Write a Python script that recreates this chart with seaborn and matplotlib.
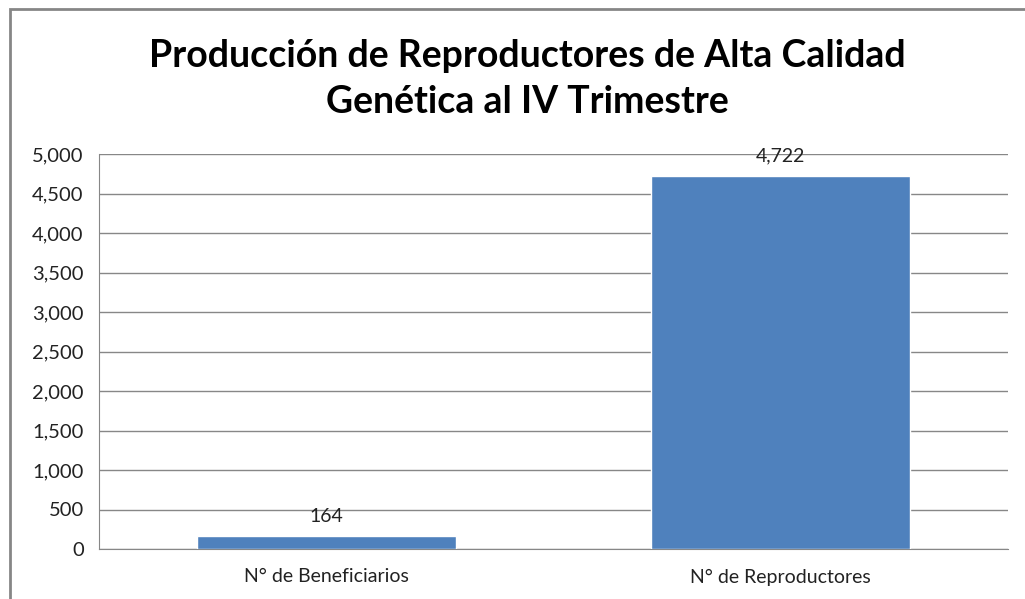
import matplotlib
matplotlib.use("Agg")
import matplotlib.pyplot as plt
import seaborn as sns
import pandas as pd
from matplotlib.patches import Rectangle
from matplotlib.ticker import FuncFormatter

# Chart data
categories = ["N° de Beneficiarios", "N° de Reproductores"]
values = [164, 4722]
title = "Producción de Reproductores de Alta Calidad\nGenética al IV Trimestre"

BAR_COLOR = "#4F81BD"
GRID_COLOR = "#878787"

sns.set_style("white")
plt.rcParams['font.family'] = ['Lato', 'DejaVu Sans']

df = pd.DataFrame({"categoria": categories, "valor": values})

fig = plt.figure(figsize=(10.25, 5.99), dpi=100)
ax = fig.add_axes([99 / 1025, 50 / 599, 909 / 1025, 395 / 599])

sns.barplot(data=df, x="categoria", y="valor", color=BAR_COLOR, width=0.57,
            saturation=1, ax=ax, zorder=3)

ax.set_ylim(0, 5000)
ax.set_yticks(range(0, 5001, 500))
ax.yaxis.set_major_formatter(FuncFormatter(lambda v, p: f"{int(v):,}"))
ax.grid(axis="y", color=GRID_COLOR, linewidth=1, zorder=0)
ax.set_xlabel("")
ax.set_ylabel("")
ax.tick_params(axis="y", labelsize=14.5, colors="#222222", length=0, pad=11)
ax.tick_params(axis="x", labelsize=14, colors="#222222", length=0, pad=14)

for s in ["top", "right"]:
    ax.spines[s].set_visible(False)
ax.spines["left"].set_color(GRID_COLOR)
ax.spines["bottom"].set_color(GRID_COLOR)

# value labels above bars
for p, v in zip(ax.patches, values):
    ax.annotate(f"{v:,}", (p.get_x() + p.get_width() / 2, p.get_height()),
                xytext=(0, 8), textcoords="offset points", ha="center",
                va="bottom", fontsize=14, color="#222222")

fig.text(527 / 1025, 0.868, title, ha="center", va="center", fontsize=27,
         fontweight="bold", linespacing=1.42, color="black")

# outer chart border
fig.patches.append(Rectangle((9.5 / 1025, -0.05), 1.1, (599 - 9) / 599 + 0.05,
                             transform=fig.transFigure, fill=False,
                             edgecolor="#868686", linewidth=2))

fig.savefig("out.png", dpi=100)
